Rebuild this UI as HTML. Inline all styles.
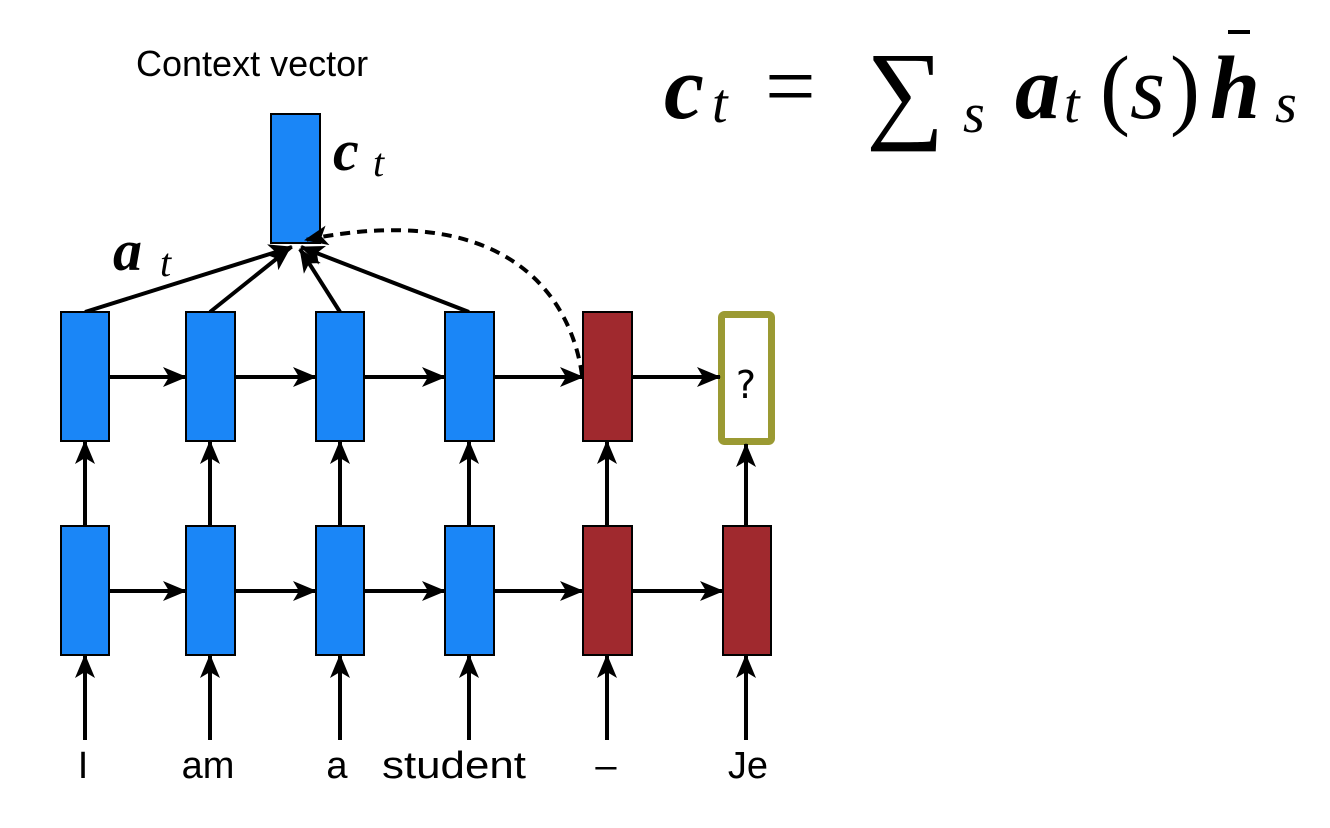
<!DOCTYPE html>
<html><head><meta charset="utf-8"><style>html,body{margin:0;padding:0;background:#fff}svg{display:block}</style></head>
<body>
<svg width="1330" height="828" viewBox="0 0 1330 828" xmlns="http://www.w3.org/2000/svg">
<defs>
<marker id="ah" markerWidth="10" markerHeight="10" refX="9" refY="5" orient="auto" markerUnits="userSpaceOnUse" viewBox="0 0 10 10">
</marker>
<marker id="a" viewBox="0 0 24 20" refX="23" refY="10" markerWidth="24" markerHeight="20" markerUnits="userSpaceOnUse" orient="auto">
<path d="M0,0 L24,10 L0,20 L6,10 Z" fill="#000"/>
</marker>
</defs>
<g font-family="Liberation Sans, sans-serif">
<text x="136" y="76" font-size="36">Context vector</text>
</g>
<!-- context box -->
<rect x="271" y="114" width="49" height="129" fill="#1a86f7" stroke="#000" stroke-width="2"/>
<!-- attention arrows -->
<g stroke="#000" stroke-width="4" fill="none" marker-end="url(#a)">
<line x1="85" y1="312" x2="292" y2="247"/>
<line x1="210" y1="312" x2="290" y2="248"/>
<line x1="340" y1="312" x2="300" y2="249"/>
<line x1="469" y1="312" x2="301" y2="247"/>
</g>
<path d="M582,375 C570,290 500,200 305,240" stroke="#000" stroke-width="4" fill="none" stroke-dasharray="10,7" marker-end="url(#a)"/>
<!-- top row boxes -->
<g fill="#1a86f7" stroke="#000" stroke-width="2">
<rect x="61" y="312" width="48" height="129"/>
<rect x="186" y="312" width="49" height="129"/>
<rect x="316" y="312" width="48" height="129"/>
<rect x="445" y="312" width="49" height="129"/>
<rect x="61" y="526" width="48" height="129"/>
<rect x="186" y="526" width="49" height="129"/>
<rect x="316" y="526" width="48" height="129"/>
<rect x="445" y="526" width="49" height="129"/>
</g>
<g fill="#a0292e" stroke="#000" stroke-width="2">
<rect x="583" y="312" width="49" height="129"/>
<rect x="583" y="526" width="49" height="129"/>
<rect x="723" y="526" width="48" height="129"/>
</g>
<rect x="721.5" y="314.5" width="50" height="127" rx="3" fill="#fff" stroke="#9b9a33" stroke-width="7"/>
<text x="746" y="398" font-family="DejaVu Sans, sans-serif" font-size="38" text-anchor="middle">?</text>
<!-- horizontal arrows -->
<g stroke="#000" stroke-width="4" marker-end="url(#a)">
<line x1="109" y1="377" x2="186" y2="377"/>
<line x1="235" y1="377" x2="316" y2="377"/>
<line x1="364" y1="377" x2="445" y2="377"/>
<line x1="494" y1="377" x2="583" y2="377"/>
<line x1="632" y1="377" x2="720" y2="377"/>
<line x1="109" y1="591" x2="186" y2="591"/>
<line x1="235" y1="591" x2="316" y2="591"/>
<line x1="364" y1="591" x2="445" y2="591"/>
<line x1="494" y1="591" x2="583" y2="591"/>
<line x1="632" y1="591" x2="723" y2="591"/>
<!-- vertical middle -->
<line x1="85" y1="526" x2="85" y2="441"/>
<line x1="210" y1="526" x2="210" y2="441"/>
<line x1="340" y1="526" x2="340" y2="441"/>
<line x1="469" y1="526" x2="469" y2="441"/>
<line x1="607" y1="526" x2="607" y2="441"/>
<line x1="746" y1="526" x2="746" y2="444"/>
<!-- vertical bottom -->
<line x1="85" y1="740" x2="85" y2="655"/>
<line x1="210" y1="740" x2="210" y2="655"/>
<line x1="340" y1="740" x2="340" y2="655"/>
<line x1="469" y1="740" x2="469" y2="655"/>
<line x1="607" y1="740" x2="607" y2="655"/>
<line x1="746" y1="740" x2="746" y2="655"/>
</g>
<g font-family="Liberation Sans, sans-serif" font-size="38" text-anchor="middle">
<text x="83" y="778">I</text>
<text x="208" y="778">am</text>
<text x="337" y="778">a</text>
<text x="454" y="778" textLength="144" lengthAdjust="spacingAndGlyphs">student</text>
<text x="606" y="778">–</text>
<text x="748" y="778">Je</text>
</g>
<!-- labels -->
<g font-family="Liberation Serif, serif" font-style="italic" font-weight="bold">
<text x="333" y="170" font-size="58">c</text>
<text x="373" y="176" font-size="40" font-weight="normal">t</text>
<text x="113" y="270" font-size="58">a</text>
<text x="160" y="276" font-size="40" font-weight="normal">t</text>
</g>
<!-- formula -->
<g font-family="Liberation Serif, serif">
<text x="664" y="118" font-size="90" font-style="italic" font-weight="bold">c</text>
<text x="712" y="122" font-size="56" font-style="italic">t</text>
<text x="765" y="116" font-size="90">=</text>
<text x="866" y="128" font-size="110">∑</text>
<text x="963" y="132" font-size="56" font-style="italic">s</text>
<text x="1015" y="118" font-size="90" font-style="italic" font-weight="bold">a</text>
<text x="1064" y="122" font-size="56" font-style="italic">t</text>
<text x="1100" y="118" font-size="90">(</text>
<text x="1130" y="118" font-size="90" font-style="italic">s</text>
<text x="1170" y="118" font-size="90">)</text>
<text x="1210" y="118" font-size="90" font-style="italic" font-weight="bold">h</text>
<text x="1275" y="122" font-size="56" font-style="italic">s</text>
</g>
<rect x="1228" y="30" width="22" height="4" fill="#000"/>
</svg>
</body></html>
